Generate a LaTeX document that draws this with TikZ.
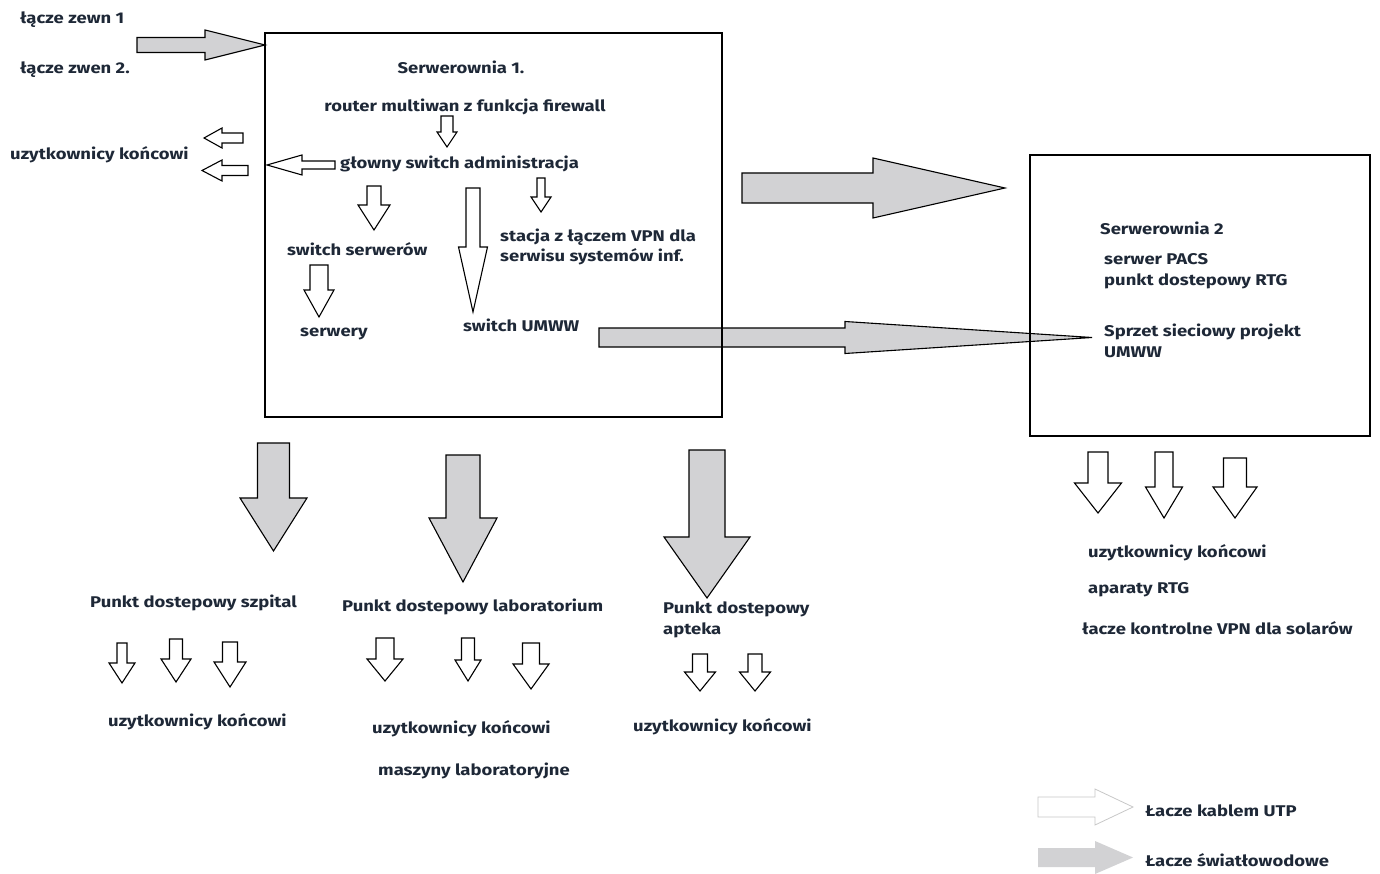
\documentclass[tikz,border=0pt]{standalone}
\usepackage{fontspec}
\setmainfont{Fira Sans}[FakeStretch=1.19]
\usetikzlibrary{positioning}
\definecolor{txtc}{RGB}{30,40,55}
\definecolor{fibre}{RGB}{210,210,212}
\definecolor{lgline}{RGB}{200,200,200}
\newcommand{\arrD}[7][]{%
  \draw[#1] ({#2-#4},#3) -- ({#2+#4},#3) -- ({#2+#4},#5) -- ({#2+#6},#5) -- (#2,#7)
     -- ({#2-#6},#5) -- ({#2-#4},#5) -- cycle;}
\newcommand{\arrH}[7][]{%
  \draw[#1] (#3,{#2-#4}) -- (#3,{#2+#4}) -- (#5,{#2+#4}) -- (#5,{#2+#6}) -- (#7,#2)
     -- (#5,{#2-#6}) -- (#5,{#2-#4}) -- cycle;}
\tikzset{
  lbl/.style={text=txtc, font=\bfseries\fontsize{15.5}{17}\selectfont, inner sep=0pt, anchor=west},
  lblc/.style={lbl, anchor=center},
  utp/.style={draw=black, fill=white, line width=1.1pt, line join=miter},
  fib/.style={draw=black, fill=fibre, line width=1.1pt, line join=miter},
  roombox/.style={draw=black, line width=1.4pt, fill=none}
}
\begin{document}
\begin{tikzpicture}[x=1pt,y=-1pt]
\useasboundingbox[fill=white] (0,0) rectangle (1380,874);

% fibre arrows
\arrH[fib]{45}{137}{7.5}{205}{15}{265}
\arrH[fib]{188}{742}{15}{873}{30}{1005}
\arrH[fib]{337.5}{599}{9.5}{845}{16}{1092}

% room boxes
\node[roombox, minimum width=457pt, minimum height=384pt, inner sep=0pt] (s1) at (493.5,225) {};
\node[roombox, minimum width=340pt, minimum height=281pt, inner sep=0pt] (s2) at (1200,295.5) {};

% top-left texts
\node[lbl] (z1) at (20,20) {łącze zewn 1};
\node[lbl] (z2) at (20,70) {łącze zwen 2.};
\node[lbl] (uk0) at (10,155) {uzytkownicy końcowi};

% left arrows
\arrH[utp]{138}{243}{5}{222}{10}{204}
\arrH[utp]{170.5}{248}{5}{222}{10.5}{202}
\arrH[utp]{165}{335}{4}{302}{10}{267}

% Serwerownia 1 content
\node[lblc] (t1) at (461,67) {Serwerownia 1.};
\node[lblc] (rt) at (465,107) {router multiwan z funkcja firewall};
\node[lbl] (gs) at (340,164) {głowny switch administracja};
\node[lbl] (ss) at (287,249) {switch serwerów};
\node[lbl] (vpn1) at (500,237) {stacja z łączem VPN dla};
\node[lbl] (vpn2) at (500,257) {serwisu systemów inf.};
\node[lbl] (srv) at (300,334) {serwery};
\node[lbl] (um) at (463,325) {switch UMWW};

\arrD[utp]{447}{116}{6}{132}{10}{147}
\arrD[utp]{541}{178}{4}{197}{10}{212}
\arrD[utp]{374}{186}{7}{205}{16}{230}
\arrD[utp]{473}{188}{7}{247}{14.5}{312}
\arrD[utp]{319}{265}{9}{290}{15}{317}

% Serwerownia 2 content
\node[lbl] (t2) at (1100,228) {Serwerownia 2};
\node[lbl] (pacs) at (1104,259) {serwer PACS};
\node[lbl] (rtg) at (1104,281) {punkt dostepowy RTG};
\node[lbl] (sp1) at (1104,332) {Sprzet sieciowy projekt};
\node[lbl] (sp2) at (1104,352) {UMWW};

% big downward fibre arrows
\arrD[fib]{273.5}{443}{16}{498}{33.5}{551}
\arrD[fib]{463}{455}{17}{518}{34}{582}
\arrD[fib]{707}{450}{18}{537}{43}{598}

% access points
\node[lbl] (p1) at (90,603) {Punkt dostepowy szpital};
\node[lbl] (p2) at (342,607) {Punkt dostepowy laboratorium};
\node[lbl] (p3) at (663,609) {Punkt dostepowy};
\node[lbl] (p3b) at (663,630) {apteka};

% small arrows
\arrD[utp]{122}{643}{5}{663}{13}{683}
\arrD[utp]{176}{639}{6.5}{659}{15}{682}
\arrD[utp]{230}{642}{7.5}{662}{16}{687}
\arrD[utp]{385}{638}{9}{659}{18}{681}
\arrD[utp]{468}{638}{6.5}{660}{13}{681}
\arrD[utp]{531}{643}{8.5}{664}{18}{689}
\arrD[utp]{700}{654}{7.5}{672}{15.5}{691}
\arrD[utp]{755}{654}{7}{672}{15.5}{691}

\node[lbl] (u1) at (108,722) {uzytkownicy końcowi};
\node[lbl] (u2) at (372,729) {uzytkownicy końcowi};
\node[lbl] (ml) at (378,771) {maszyny laboratoryjne};
\node[lbl] (u3) at (633,727) {uzytkownicy końcowi};

% right lower
\arrD[utp]{1098}{452}{10}{483}{23.5}{513}
\arrD[utp]{1164}{452}{9}{487}{18.5}{518}
\arrD[utp]{1235}{458}{11.5}{487}{22}{518}

\node[lbl] (u4) at (1088,553) {uzytkownicy końcowi};
\node[lbl] (ap) at (1088,590) {aparaty RTG};
\node[lbl] (lk) at (1082,628) {łacze kontrolne VPN dla solarów};

% legend
\arrH[draw=lgline, fill=white, line width=0.8pt]{807}{1038}{10}{1095}{18}{1133}
\arrH[draw=none, fill=fibre]{857.5}{1038}{9.5}{1095}{16.5}{1133}
\node[lbl] (l1) at (1145,811) {Łacze kablem UTP};
\node[lbl] (l2) at (1145,860) {Łacze światłowodowe};
\end{tikzpicture}
\end{document}
